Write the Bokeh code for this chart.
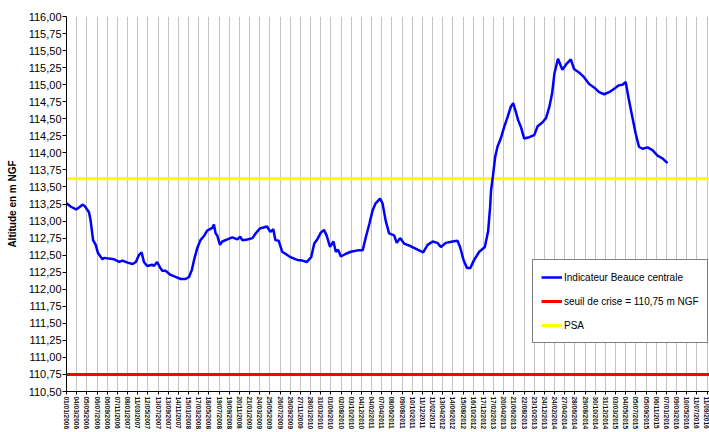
import math
import pandas as pd
from bokeh.plotting import figure
from bokeh.models import Range1d, FixedTicker, Legend, LegendItem
from bokeh.embed import file_html
from bokeh.resources import INLINE

# ---------------- data ----------------
origine = pd.Timestamp("2006-01-01")

dates = [
    "2006-01-01", "2006-01-28", "2006-02-28", "2006-03-18", "2006-04-08", "2006-04-22",
    "2006-05-18", "2006-05-28", "2006-06-12", "2006-06-28", "2006-07-12", "2006-08-08",
    "2006-08-18", "2006-10-18", "2006-11-18", "2006-12-08", "2007-01-08", "2007-02-08",
    "2007-02-28", "2007-03-18", "2007-04-04", "2007-04-18", "2007-05-08", "2007-06-08",
    "2007-06-18", "2007-07-08", "2007-07-25", "2007-08-08", "2007-08-28", "2007-09-28",
    "2007-10-28", "2007-11-28", "2007-12-28", "2008-01-18", "2008-02-04", "2008-02-18",
    "2008-03-08", "2008-03-28", "2008-04-18", "2008-05-08", "2008-06-08", "2008-06-18",
    "2008-06-28", "2008-07-08", "2008-07-25", "2008-08-08", "2008-09-08", "2008-10-08",
    "2008-11-08", "2008-11-25", "2008-12-08", "2009-01-08", "2009-02-08", "2009-02-28",
    "2009-03-25", "2009-05-08", "2009-05-28", "2009-06-15", "2009-06-28", "2009-07-18",
    "2009-08-08", "2009-08-28", "2009-09-28", "2009-11-08", "2009-12-08", "2010-01-06",
    "2010-02-01", "2010-02-20", "2010-03-10", "2010-04-01", "2010-04-20", "2010-05-06",
    "2010-05-27", "2010-06-17", "2010-07-01", "2010-07-15", "2010-08-01", "2010-09-01",
    "2010-10-01", "2010-11-12", "2010-12-12", "2011-01-01", "2011-01-22", "2011-02-11",
    "2011-03-01", "2011-03-28", "2011-04-12", "2011-05-01", "2011-05-22", "2011-06-22",
    "2011-07-08", "2011-07-28", "2011-08-22", "2011-10-02", "2011-11-12", "2011-12-16",
    "2012-01-12", "2012-02-12", "2012-03-12", "2012-04-02", "2012-05-02", "2012-06-12",
    "2012-07-12", "2012-07-28", "2012-08-18", "2012-09-08", "2012-09-28", "2012-10-22",
    "2012-11-22", "2012-12-26", "2013-01-15", "2013-01-27", "2013-02-02", "2013-02-13",
    "2013-02-27", "2013-03-13", "2013-04-02", "2013-04-23", "2013-05-13", "2013-06-03",
    "2013-06-17", "2013-07-03", "2013-07-17", "2013-08-03", "2013-08-23", "2013-09-23",
    "2013-10-23", "2013-11-13", "2013-12-13", "2014-01-03", "2014-01-23", "2014-02-09",
    "2014-02-23", "2014-03-17", "2014-04-13", "2014-05-10", "2014-06-03", "2014-06-23",
    "2014-07-23", "2014-08-23", "2014-09-23", "2014-10-23", "2014-11-23", "2014-12-23",
    "2015-01-23", "2015-02-23", "2015-03-23", "2015-04-14", "2015-05-04", "2015-05-24",
    "2015-06-14", "2015-07-04", "2015-07-24", "2015-08-14", "2015-09-14", "2015-10-14",
    "2015-11-14", "2015-12-14", "2016-01-14",
]

altitude = [
    113.26, 113.21, 113.17, 113.20, 113.24, 113.22,
    113.13, 113.01, 112.72, 112.65, 112.53, 112.44,
    112.46, 112.44, 112.40, 112.42, 112.39, 112.37,
    112.40, 112.50, 112.54, 112.40, 112.34, 112.36,
    112.34, 112.40, 112.32, 112.27, 112.27, 112.21,
    112.18, 112.15, 112.15, 112.18, 112.28, 112.43,
    112.60, 112.72, 112.78, 112.86, 112.90, 112.95,
    112.82, 112.79, 112.65, 112.70, 112.73, 112.76,
    112.73, 112.77, 112.72, 112.73, 112.75, 112.82,
    112.89, 112.92, 112.84, 112.88, 112.72, 112.71,
    112.55, 112.52, 112.47, 112.43, 112.42, 112.40,
    112.47, 112.67, 112.73, 112.83, 112.87, 112.79,
    112.62, 112.70, 112.55, 112.58, 112.48, 112.52,
    112.55, 112.57, 112.57, 112.77, 112.96, 113.16,
    113.26, 113.33, 113.26, 113.01, 112.82, 112.79,
    112.68, 112.75, 112.67, 112.63, 112.58, 112.54,
    112.65, 112.70, 112.68, 112.62, 112.68, 112.70,
    112.71, 112.62, 112.43, 112.31, 112.31, 112.43,
    112.55, 112.62, 112.85, 113.20, 113.45, 113.65,
    113.94, 114.09, 114.21, 114.38, 114.52, 114.68,
    114.73, 114.60, 114.48, 114.38, 114.21, 114.23,
    114.26, 114.39, 114.45, 114.51, 114.67, 114.87,
    115.16, 115.38, 115.22, 115.31, 115.37, 115.23,
    115.18, 115.11, 115.01, 114.96, 114.89, 114.86,
    114.89, 114.94, 114.99, 115.00, 115.04, 114.77,
    114.52, 114.28, 114.09, 114.06, 114.08, 114.04,
    113.96, 113.92, 113.85,
]

seuil_crise = 110.75
psa = 113.62

# x-axis: one label every 62 days from 01/01/2006
pas_jours = 62
x_ticks = [pas_jours * k for k in range(64)]
x_tick_labels = [(origine + pd.Timedelta(days=t)).strftime("%d/%m/%Y") for t in x_ticks]

y_ticks = [110.5 + 0.25 * k for k in range(23)]
y_tick_labels = [f"{v:.2f}".replace(".", ",") for v in y_ticks]

# ---------------- figure ----------------
jours = [(pd.Timestamp(d) - origine).days for d in dates]
x_end = 3921

p = figure(width=709, height=432, output_backend="svg", toolbar_location=None,
           x_range=Range1d(0, x_end), y_range=Range1d(110.5, 116.0),
           min_border_left=66, min_border_right=0, min_border_top=16, min_border_bottom=40)
p.background_fill_color = "white"
p.border_fill_color = "white"
p.outline_line_color = None

FONT = "Liberation Sans"

# axes
xa = p.xaxis[0]
xa.ticker = FixedTicker(ticks=x_ticks)
xa.major_label_overrides = {t: l for t, l in zip(x_ticks, x_tick_labels)}
xa.major_label_orientation = -math.pi / 2
xa.major_label_text_font = FONT
xa.major_label_text_font_size = "6.5px"
xa.major_label_text_font_style = "bold"
xa.major_label_text_color = "#111111"
xa.major_label_standoff = 2
xa.major_tick_out = 3
xa.major_tick_in = 0
xa.minor_tick_line_color = None
xa.axis_line_color = "black"
xa.major_tick_line_color = "black"

ya = p.yaxis[0]
ya.ticker = FixedTicker(ticks=y_ticks)
ya.major_label_overrides = {t: l for t, l in zip(y_ticks, y_tick_labels)}
ya.major_label_text_font = FONT
ya.major_label_text_font_size = "11px"
ya.major_label_text_color = "black"
ya.major_label_standoff = 1
ya.major_tick_out = 4
ya.major_tick_in = 0
ya.minor_tick_line_color = None
ya.axis_line_color = "black"
ya.major_tick_line_color = "black"
ya.axis_label = "Altitude en m NGF"
ya.axis_label_text_font = FONT
ya.axis_label_text_font_size = "10px"
ya.axis_label_text_font_style = "bold"
ya.axis_label_text_color = "black"
ya.axis_label_standoff = 8

p.xgrid.ticker = FixedTicker(ticks=x_ticks)
p.xgrid.grid_line_color = "#c4c4c4"
p.xgrid.grid_line_width = 1
p.ygrid.grid_line_color = None

# lines
r_seuil = p.line([0, x_end], [seuil_crise, seuil_crise], line_color="#ff0000", line_width=3)
r_psa = p.line([0, x_end], [psa, psa], line_color="#ffff00", line_width=3)
r_ind = p.line(jours, altitude, line_color="#0000ff", line_width=2.5)

legend = Legend(items=[
    LegendItem(label="Indicateur Beauce centrale", renderers=[r_ind]),
    LegendItem(label="seuil de crise = 110,75 m NGF", renderers=[r_seuil]),
    LegendItem(label="PSA", renderers=[r_psa]),
], location=(466, 48))
legend.label_text_font = FONT
legend.label_text_font_size = "10px"
legend.label_text_color = "black"
legend.glyph_width = 21
legend.glyph_height = 18
legend.label_height = 18
legend.spacing = 6
legend.padding = 8
legend.margin = 0
legend.label_standoff = 2
legend.border_line_color = "black"
legend.border_line_width = 1
legend.background_fill_color = "white"
legend.background_fill_alpha = 1
p.add_layout(legend, "center")

open("out.html", "w").write(file_html(p, INLINE))
